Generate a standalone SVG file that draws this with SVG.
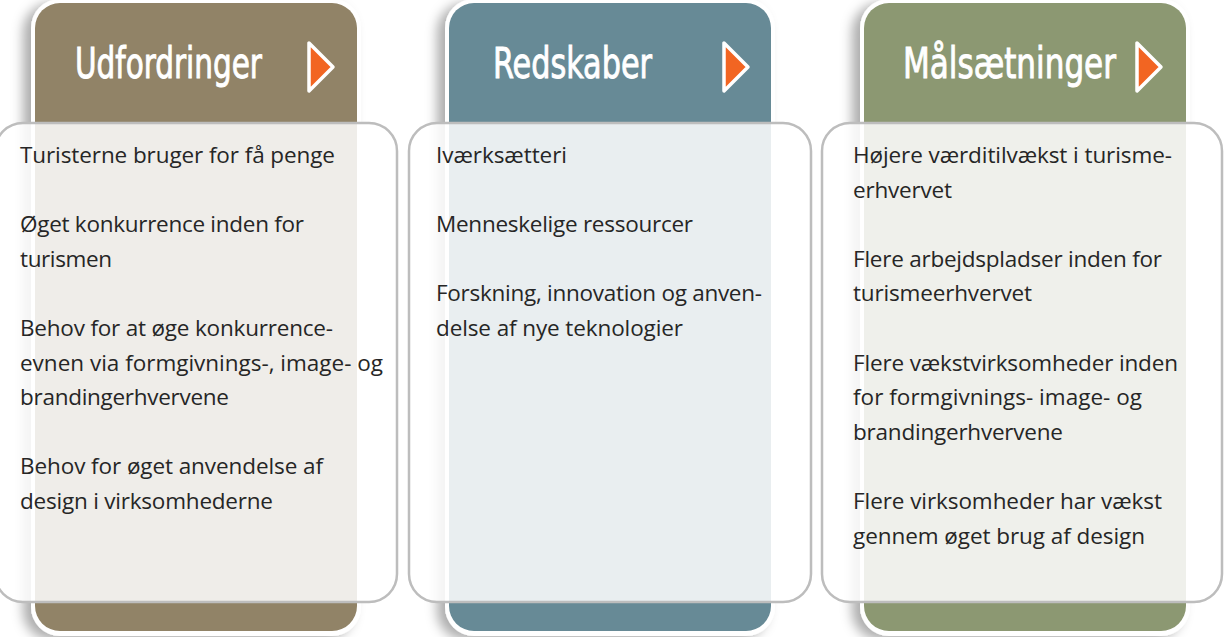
<svg xmlns="http://www.w3.org/2000/svg" width="1225" height="637" viewBox="0 0 1225 637">
<defs>
<filter id="sh" x="-20%" y="-10%" width="140%" height="120%">
<feDropShadow dx="-8" dy="4" stdDeviation="6" flood-color="#000" flood-opacity="0.32"/>
</filter>
<style>
.frame{fill:#ffffff;filter:url(#sh)}
.overlay{fill:#ffffff;fill-opacity:0.86;stroke:#bdbdbd;stroke-width:2.5}
.title{font-family:"DejaVu Sans Condensed","DejaVu Sans",sans-serif;font-stretch:condensed;font-size:43px;fill:#ffffff;stroke:#ffffff;stroke-width:0.9}
.body{font-family:"Open Sans","Noto Sans",sans-serif;font-size:22.5px;fill:#262626}
.arrow{fill:#f26522;stroke:#ffffff;stroke-width:3.5;stroke-linejoin:round}
</style>
</defs>
<rect width="1225" height="637" fill="#ffffff"/>
<g id="connectors"/>
<g id="col-udfordringer">
<rect class="frame" x="31" y="-1" width="330" height="637" rx="29"/>
<rect x="35" y="3" width="322" height="628" rx="25" fill="#918367"/>
<text class="title" x="75" y="78" textLength="187" lengthAdjust="spacingAndGlyphs">Udfordringer</text>
<polygon class="arrow" points="309,43 309,91 333,67"/>
<rect class="overlay" x="-5" y="123" width="402" height="479" rx="28"/>
<g class="body">
<text x="20" y="163" textLength="315">Turisterne bruger for få penge</text>
<text x="20" y="232.2" textLength="284">Øget konkurrence inden for</text>
<text x="20" y="266.8" textLength="92">turismen</text>
<text x="20" y="336" textLength="313">Behov for at øge konkurrence-</text>
<text x="20" y="370.6" textLength="363">evnen via formgivnings-, image- og</text>
<text x="20" y="405.2" textLength="209">brandingerhvervene</text>
<text x="20" y="474.4" textLength="303">Behov for øget anvendelse af</text>
<text x="20" y="509" textLength="253">design i virksomhederne</text>
</g>
</g>
<g id="col-redskaber">
<rect class="frame" x="445" y="-1" width="330" height="637" rx="29"/>
<rect x="449" y="3" width="322" height="628" rx="25" fill="#678a96"/>
<text class="title" x="493" y="78" textLength="159" lengthAdjust="spacingAndGlyphs">Redskaber</text>
<polygon class="arrow" points="724,43 724,91 748,67"/>
<rect class="overlay" x="409" y="123" width="402" height="479" rx="28"/>
<g class="body">
<text x="436" y="163" textLength="131">Iværksætteri</text>
<text x="436" y="232.2" textLength="257">Menneskelige ressourcer</text>
<text x="436" y="301.4" textLength="326">Forskning, innovation og anven-</text>
<text x="436" y="336" textLength="247">delse af nye teknologier</text>
</g>
</g>
<g id="col-maalsaetninger">
<rect class="frame" x="860" y="-1" width="330" height="637" rx="29"/>
<rect x="864" y="3" width="322" height="628" rx="25" fill="#8c9872"/>
<text class="title" x="903" y="78" textLength="213" lengthAdjust="spacingAndGlyphs">Målsætninger</text>
<polygon class="arrow" points="1137,43 1137,91 1161,67"/>
<rect class="overlay" x="822" y="123" width="400" height="479" rx="28"/>
<g class="body">
<text x="853" y="163" textLength="319">Højere værditilvækst i turisme-</text>
<text x="853" y="197.6" textLength="99">erhvervet</text>
<text x="853" y="266.8" textLength="309">Flere arbejdspladser inden for</text>
<text x="853" y="301.4" textLength="179">turismeerhvervet</text>
<text x="853" y="370.6" textLength="325">Flere vækstvirksomheder inden</text>
<text x="853" y="405.2" textLength="289">for formgivnings- image- og</text>
<text x="853" y="439.8" textLength="210">brandingerhvervene</text>
<text x="853" y="509" textLength="309">Flere virksomheder har vækst</text>
<text x="853" y="543.6" textLength="292">gennem øget brug af design</text>
</g>
</g>
</svg>
